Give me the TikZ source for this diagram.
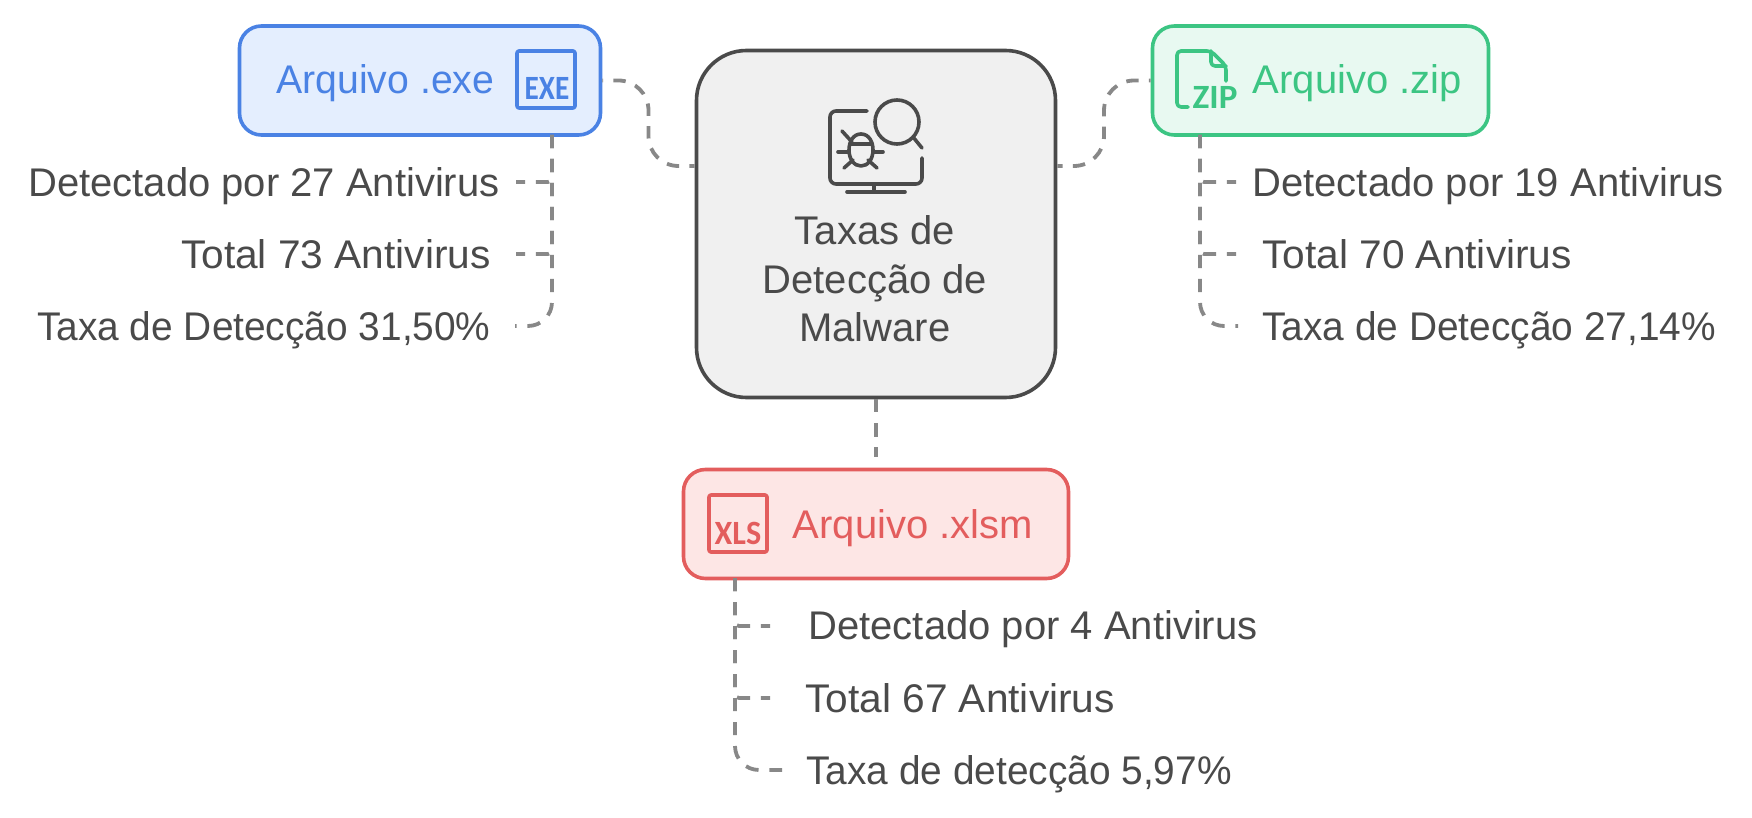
\documentclass[tikz,border=0pt]{standalone}
\usepackage{fontspec}
\setmainfont{Liberation Sans}
\newfontfamily\iconfont{Carlito}
\usetikzlibrary{calc}
\definecolor{exe_col}{HTML}{4A82E4}
\definecolor{exe_bg}{HTML}{E4EEFE}
\definecolor{zip_col}{HTML}{3CC583}
\definecolor{zip_bg}{HTML}{E8F9F1}
\definecolor{xls_col}{HTML}{E35D5D}
\definecolor{xls_bg}{HTML}{FDE6E5}
\definecolor{ink}{HTML}{4A4A4A}
\definecolor{dashgray}{HTML}{888888}

\begin{document}
\begin{tikzpicture}[x=0.5pt,y=-0.5pt]
	\tikzset{comp/.style={
		rectangle, rounded corners=11pt, line width=1.8pt, minimum height=54.5pt, inner sep=0pt
	}}
	\tikzset{caption/.style={
		inner sep=0pt, font=\fontsize{20}{24}\selectfont
	}}
	\tikzset{item/.style={
		caption, text=ink
	}}
	\tikzset{item_rate/.style={
		item, xscale=0.971
	}}
	\tikzset{item_total/.style={
		item, xscale=1.016
	}}
	\tikzset{conn/.style={
		draw=dashgray, line width=1.9pt, dash pattern=on 6.6pt off 5.4pt
	}}
	\tikzset{conn_curve/.style={
		conn, rounded corners=15pt, dash pattern=on 6.2pt off 5.1pt, dash phase=3.5pt
	}}
	\tikzset{icon/.style={
		line width=1.8pt, line cap=round, line join=round
	}}
	\tikzset{icon_text/.style={
		inner sep=0pt, font=\iconfont\bfseries\fontsize{17}{17}\selectfont, xscale=0.86, anchor=base
	}}

	\path[use as bounding box] (0,0) rectangle (1752,818);

	% Malware
	\node (Malware) [comp, rounded corners=25pt, draw=ink, fill=black!6, minimum width=179.5pt, minimum height=173.5pt] at (876,224) {};
	\node (Malware_text1) [item, anchor=base] at (875,245) {Taxas de};
	\node (Malware_text2) [item, anchor=base] at (875,293.5) {Detecção de};
	\node (Malware_text3) [item, anchor=base] at (875,341.5) {Malware};
	\coordinate (Malware_left) at (Malware.west |- 0,166);
	\coordinate (Malware_right) at (Malware.east |- 0,166);

	% Exe
	\node (Exe) [comp, draw=exe_col, fill=exe_bg, minimum width=180.5pt] at (420,80.5) {};
	\node (Exe_text) [caption, anchor=base west, text=exe_col, xscale=0.98] at (276,94) {Arquivo .exe};
	\node (Exe_detect) [item, anchor=base east] at (500,196.5) {Detectado por 27 Antivirus};
	\node (Exe_total) [item_total, anchor=base east] at (491,268.5) {Total 73 Antivirus};
	\node (Exe_rate) [item_rate, anchor=base east] at (491,340.5) {Taxa de Detecção 31,50\%};
	\coordinate (Exe_out) at (552,135);
	\coordinate (Exe_detect_in) at (516,182);
	\coordinate (Exe_total_in) at (516,254);
	\coordinate (Exe_rate_in) at (515,326);
	\coordinate (Exe_bend) at ($(Exe.east)!0.5!(Malware_left)$);

	% Zip
	\node (Zip) [comp, draw=zip_col, fill=zip_bg, minimum width=168pt] at (1320.5,80.5) {};
	\node (Zip_text) [caption, anchor=base west, text=zip_col] at (1252.5,94) {Arquivo .zip};
	\node (Zip_detect) [item, anchor=base west] at (1252,196.5) {Detectado por 19 Antivirus};
	\node (Zip_total) [item_total, anchor=base west] at (1262,268.5) {Total 70 Antivirus};
	\node (Zip_rate) [item_rate, anchor=base west] at (1262,340.5) {Taxa de Detecção 27,14\%};
	\coordinate (Zip_out) at (1200,135);
	\coordinate (Zip_detect_in) at (1236,182);
	\coordinate (Zip_total_in) at (1236,254);
	\coordinate (Zip_rate_in) at (1238,326);
	\coordinate (Zip_bend) at ($(Zip.west)!0.5!(Malware_right)$);

	% Xlsm
	\node (Xlsm) [comp, draw=xls_col, fill=xls_bg, minimum width=192.5pt] at (876,524) {};
	\node (Xlsm_text) [caption, anchor=base west, text=xls_col] at (792.5,538) {Arquivo .xlsm};
	\node (Xlsm_detect) [item, anchor=base west] at (808,639.5) {Detectado por 4 Antivirus};
	\node (Xlsm_total) [item_total, anchor=base west] at (805,712) {Total 67 Antivirus};
	\node (Xlsm_rate) [item_rate, anchor=base west] at (806,784.5) {Taxa de detecção 5,97\%};
	\coordinate (Xlsm_out) at (735,578);
	\coordinate (Xlsm_detect_in) at (770,626);
	\coordinate (Xlsm_total_in) at (770,698);
	\coordinate (Xlsm_rate_in) at (782,770);
	\coordinate (Xlsm_top) at (876,457);

	% Malware <-> boxes
	\draw[conn_curve] (Malware_left) -- (Malware_left -| Exe_bend) -- (Exe.east -| Exe_bend) -- (Exe.east);
	\draw[conn_curve] (Malware_right) -- (Malware_right -| Zip_bend) -- (Zip.west -| Zip_bend) -- (Zip.west);
	\draw[conn] (Malware.south) -- (Xlsm_top);

	% Exe items
	\draw[conn, rounded corners=2pt] (Exe_out) |- (Exe_detect_in);
	\draw[conn, rounded corners=2pt] (Exe_out) |- (Exe_total_in);
	\draw[conn, rounded corners=12pt] (Exe_out) |- (Exe_rate_in);

	% Zip items
	\draw[conn, rounded corners=2pt] (Zip_out) |- (Zip_detect_in);
	\draw[conn, rounded corners=2pt] (Zip_out) |- (Zip_total_in);
	\draw[conn, rounded corners=12pt] (Zip_out) |- (Zip_rate_in);

	% Xlsm items
	\draw[conn, rounded corners=2pt] (Xlsm_out) |- (Xlsm_detect_in);
	\draw[conn, rounded corners=2pt] (Xlsm_out) |- (Xlsm_total_in);
	\draw[conn, rounded corners=12pt] (Xlsm_out) |- (Xlsm_rate_in);

	% Icon exe
	\draw[icon, draw=exe_col, rounded corners=1pt] (517,51) rectangle (575,108);
	\node (Exe_icon) [icon_text, text=exe_col] at (547,100) {EXE};

	% Icon zip
	\draw[icon, draw=zip_col, rounded corners=2pt] (1226,81) -- (1226,66) -- (1211,51) -- (1177,51) -- (1177,107) -- (1188,107);
	\draw[icon, draw=zip_col, rounded corners=2pt] (1211,51) -- (1211,66) -- (1226,66);
	\node (Zip_icon) [icon_text, text=zip_col, xscale=1.2] at (1215,109) {ZIP};

	% Icon xlsm
	\draw[icon, draw=xls_col, rounded corners=1pt] (709,495) rectangle (767,552);
	\node (Xlsm_icon) [icon_text, text=xls_col, xscale=1.1] at (738,544) {XLS};

	% Icon malware
	\draw[icon, draw=ink, rounded corners=3pt] (867,111) -- (830,111) -- (830,184) -- (922,184) -- (922,158);
	\draw[icon, draw=ink] (874,184) -- (874,192) (847,192) -- (905,192);
	\draw[icon, draw=ink] (897,122) circle (22);
	\draw[icon, draw=ink] (913,137) -- (922,148);
	\draw[icon, draw=ink] (861,134) .. controls (853,134) and (849,142) .. (849,150) .. controls (849,159) and (854,166) .. (861,166) .. controls (868,166) and (873,159) .. (873,150) .. controls (873,142) and (869,134) .. (861,134) -- cycle;
	\draw[icon, draw=ink] (850,144) -- (872,144);
	\draw[icon, draw=ink] (838,152) -- (849,152) (873,152) -- (883,152);
	\draw[icon, draw=ink] (842,131) -- (852,142);
	\draw[icon, draw=ink] (844,168) -- (853,160) (877,168) -- (868,160);
\end{tikzpicture}
\end{document}
